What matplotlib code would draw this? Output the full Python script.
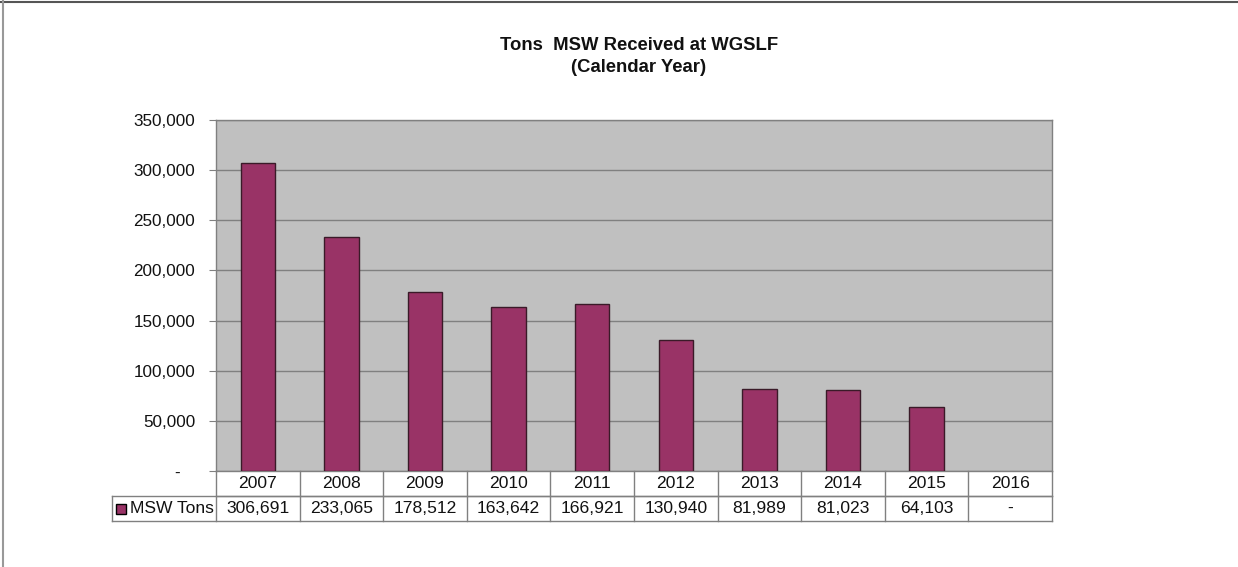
import matplotlib
matplotlib.use("Agg")
import matplotlib.pyplot as plt
from matplotlib.patches import Rectangle
from matplotlib.lines import Line2D
import matplotlib.transforms as mtransforms

years = ["2007", "2008", "2009", "2010", "2011", "2012", "2013", "2014", "2015", "2016"]
tons = [306691, 233065, 178512, 163642, 166921, 130940, 81989, 81023, 64103, 0]
value_labels = ["306,691", "233,065", "178,512", "163,642", "166,921", "130,940",
                "81,989", "81,023", "64,103", "-"]
yticks = [0, 50000, 100000, 150000, 200000, 250000, 300000, 350000]
ytick_labels = ["-   ", "50,000", "100,000", "150,000", "200,000", "250,000", "300,000", "350,000"]
series_name = "MSW Tons"
title = "Tons  MSW Received at WGSLF\n(Calendar Year)"

plt.rcParams['font.family'] = ['Liberation Sans', 'DejaVu Sans']

W, H = 1238, 567
fig = plt.figure(figsize=(W / 100, H / 100), dpi=100)
fig.patch.set_facecolor("white")

# figure border (top and left visible)
fig.add_artist(Line2D([0, 1], [1 - 1.5 / H, 1 - 1.5 / H], transform=fig.transFigure,
                      color="#555555", lw=1.5))
fig.add_artist(Line2D([2.5 / W, 2.5 / W], [0, 1], transform=fig.transFigure,
                      color="#999999", lw=1.5))

L, R, T, B = 216, 1052, 120, 471
ax = fig.add_axes([L / W, 1 - B / H, (R - L) / W, (B - T) / H])
ax.set_facecolor("#C0C0C0")

x = list(range(len(years)))
bars = ax.bar(x, tons, width=0.41, color="#993366", edgecolor="#3a1a28", linewidth=1, zorder=3)
for b, v in zip(bars, tons):
    if v == 0:
        b.set_linewidth(0)
ax.set_xlim(-0.5, len(years) - 0.5)
ax.set_ylim(0, 350000)
ax.set_yticks(yticks)
ax.set_yticklabels(ytick_labels, fontsize=12.3, color="#111111")
ax.yaxis.grid(True, color="#808080", lw=1, zorder=0)
ax.set_axisbelow(True)
ax.set_xticks([])
ax.tick_params(axis="y", length=5, color="#808080", pad=10)
for s in ax.spines.values():
    s.set_color("#808080")
    s.set_linewidth(1)

fig.text(639 / W, 1 - 56.5 / H, title, ha="center", va="center", fontsize=13.3,
         fontweight="bold", linespacing=1.42, color="#111111")

# data table
trans = mtransforms.blended_transform_factory(ax.transData, ax.transAxes)
ph = B - T
r1 = -25 / ph
r2 = -50 / ph
gc = "#808080"
fs = 12.6
ax.add_line(Line2D([-0.5, len(years) - 0.5], [r1, r1], transform=trans, color=gc, lw=1, clip_on=False))
cell = (R - L) / len(years)
xl = -0.5 - (L - 112) / cell
ax.add_line(Line2D([xl, len(years) - 0.5], [r1, r1], transform=trans, color=gc, lw=1, clip_on=False))
ax.add_line(Line2D([xl, len(years) - 0.5], [r2, r2], transform=trans, color=gc, lw=1, clip_on=False))
ax.add_line(Line2D([xl, xl], [r1, r2], transform=trans, color=gc, lw=1, clip_on=False))
for i in range(len(years) + 1):
    ax.add_line(Line2D([i - 0.5, i - 0.5], [0, r2], transform=trans, color=gc, lw=1, clip_on=False))
for i in x:
    ax.text(i, r1 / 2, years[i], transform=trans, ha="center", va="center", fontsize=fs, color="#111111")
    ax.text(i, (r1 + r2) / 2, value_labels[i], transform=trans, ha="center", va="center",
            fontsize=fs, color="#111111")

# legend key
kx = -0.5 - (L - 116) / cell
kw = 10 / cell
ax.add_patch(Rectangle((kx, (r1 + r2) / 2 - 5 / ph), kw, 10 / ph, transform=trans,
                       facecolor="#993366", edgecolor="black", lw=1, clip_on=False))
ax.text(-0.5 - (L - 130) / cell, (r1 + r2) / 2, series_name, transform=trans,
        ha="left", va="center", fontsize=fs, color="#111111")

fig.savefig("out.png", dpi=100)
